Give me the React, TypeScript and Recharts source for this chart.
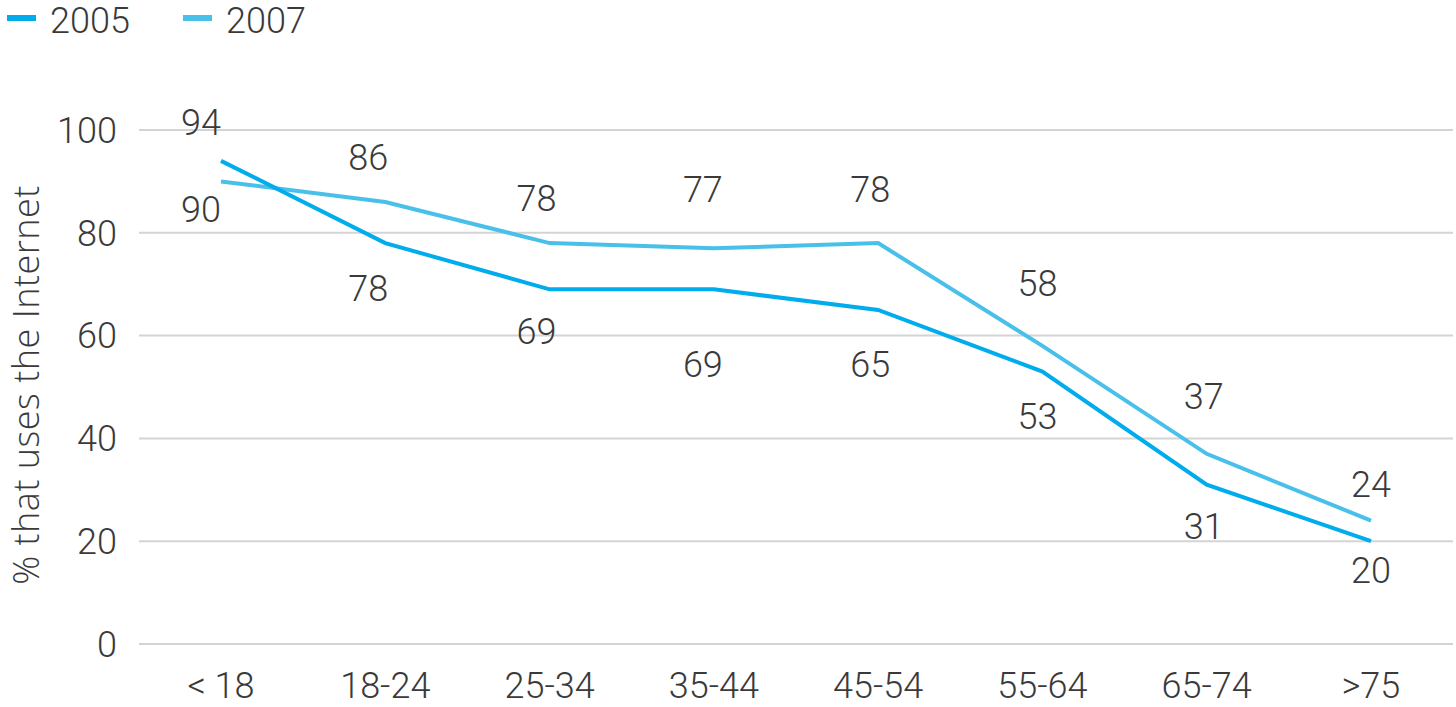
import React from 'react';
import { LineChart, Line, XAxis, YAxis, CartesianGrid, LabelList } from 'recharts';

const ageGroups = ['< 18', '18-24', '25-34', '35-44', '45-54', '55-64', '65-74', '>75'];
const values2005 = [94, 78, 69, 69, 65, 53, 31, 20];
const values2007 = [90, 86, 78, 77, 78, 58, 37, 24];
const yTicks = [0, 20, 40, 60, 80, 100];

// hand-placed label offsets (px) relative to each point
const labelDx = [-20, -17, -13, -11, -8, -5, -3, 0];
const labelDy2005 = [-38, 46, 43, 76, 55, 45, 42, 30];
const labelDy2007 = [29, -44, -44, -58, -53, -62, -57, -36];

const COLOR_2005 = '#00acec';
const COLOR_2007 = '#48c0ea';
const TEXT = '#3a3a3a';
const FONT = 'Roboto, sans-serif';

const data = ageGroups.map((age, i) => ({
  age,
  v2005: values2005[i],
  v2007: values2007[i],
}));

const makeLabel = (offsets: number[]) => (props: any) => {
  const { x, y, value, index } = props;
  return (
    <text
      x={x + labelDx[index]}
      y={y + offsets[index]}
      textAnchor="middle"
      dominantBaseline="central"
      fill={TEXT}
      fontSize={36}
      fontWeight={300}
      fontFamily={FONT}
    >
      {value}
    </text>
  );
};

const AxisTitle = (props: any) => {
  const { viewBox } = props;
  const cx = 25;
  const cy = viewBox.y + viewBox.height / 2 - 2;
  return (
    <text
      x={cx}
      y={cy}
      transform={`rotate(-90, ${cx}, ${cy})`}
      textAnchor="middle"
      dominantBaseline="central"
      fill={TEXT}
      fontSize={36}
      fontWeight={300}
      letterSpacing={0.5}
      fontFamily="'Open Sans', sans-serif"
    >
      % that uses the Internet
    </text>
  );
};

const legendItems = [
  { name: '2005', color: COLOR_2005, x: 7 },
  { name: '2007', color: COLOR_2007, x: 183 },
];

export default function App() {
  return (
    <div style={{ position: 'absolute', left: 0, top: 0, width: 1456, height: 707, background: '#fff' }}>
      <svg width={400} height={45} style={{ position: 'absolute', left: 0, top: 0 }}>
        {legendItems.map((item) => (
          <g key={item.name}>
            <rect x={item.x} y={15} width={29} height={6} fill={item.color} />
            <text x={item.x + 43} y={33} fill={TEXT} fontSize={36} fontWeight={300} fontFamily={FONT}>
              {item.name}
            </text>
          </g>
        ))}
      </svg>
      <LineChart
        width={1456}
        height={707}
        data={data}
        margin={{ top: 130, right: 3, bottom: 0, left: 0 }}
      >
        <CartesianGrid vertical={false} stroke="#d4d4d4" strokeWidth={2} />
        <XAxis
          dataKey="age"
          height={63}
          axisLine={false}
          tickLine={false}
          tickMargin={22}
          interval={0}
          padding={{ left: 82, right: 82 }}
          tick={{ fill: TEXT, fontSize: 36, fontWeight: 300, fontFamily: FONT }}
        />
        <YAxis
          width={139}
          domain={[0, 100]}
          ticks={yTicks}
          axisLine={false}
          tickLine={false}
          tickMargin={16}
          tick={{ fill: TEXT, fontSize: 36, fontWeight: 300, fontFamily: FONT }}
          label={<AxisTitle />}
        />
        <Line
          type="linear"
          dataKey="v2007"
          stroke={COLOR_2007}
          strokeWidth={4}
          dot={false}
          isAnimationActive={false}
        >
          <LabelList dataKey="v2007" content={makeLabel(labelDy2007)} />
        </Line>
        <Line
          type="linear"
          dataKey="v2005"
          stroke={COLOR_2005}
          strokeWidth={4}
          dot={false}
          isAnimationActive={false}
        >
          <LabelList dataKey="v2005" content={makeLabel(labelDy2005)} />
        </Line>
      </LineChart>
    </div>
  );
}
